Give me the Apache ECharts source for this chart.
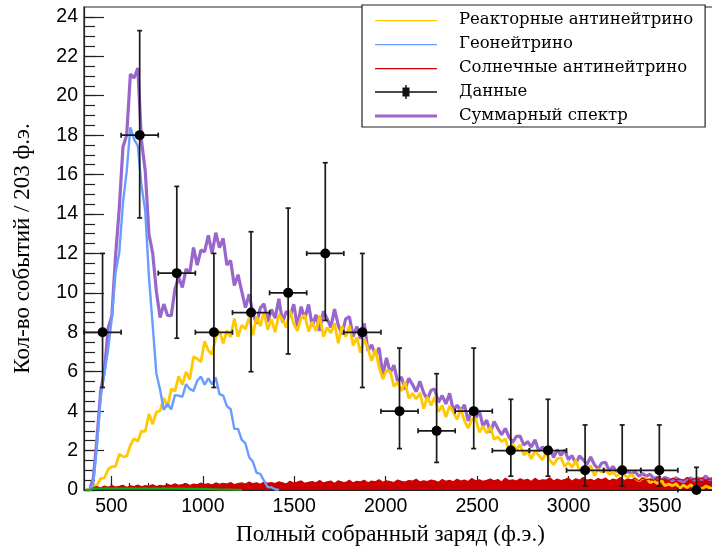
<!DOCTYPE html>
<html>
<head>
<meta charset="utf-8">
<script src="https://cdn.jsdelivr.net/npm/echarts@6/dist/echarts.min.js"></script>
<style>
  html, body { margin: 0; padding: 0; background: #fff; }
  #chart { width: 712px; height: 550px; }
</style>
</head>
<body>
<div id="chart"></div>
<script>
// Fine-binned simulated spectra: 170 bins of 20.3 ф.э. starting at 350 ф.э.
const fineStart = 350;
const fineWidth = 20.3;

// Reactor antineutrino spectrum
const reactor = [
  0, 0, 0.22, 0.25, 0.58, 0.61, 1.04, 1.18, 1.2, 1.82,
  1.69, 1.71, 2.27, 2.61, 2.47, 2.99, 2.97, 3.85, 3.34, 3.95,
  4.02, 4.67, 4.2, 5.13, 5.02, 5.76, 5.34, 5.99, 5.61, 6.76,
  6.66, 6.5, 7.54, 7.08, 6.87, 7.74, 8.07, 7.44, 8.08, 7.76,
  8.7, 7.78, 8.36, 8.17, 8.76, 7.85, 8.8, 8.32, 9.03, 8.13,
  8.67, 8.01, 8.91, 8.61, 8.25, 9.09, 8.43, 8.07, 8.74, 8.87,
  8.04, 8.53, 8.06, 8.85, 7.78, 8.24, 7.97, 8.46, 7.45, 8.3,
  7.77, 8.33, 7.33, 7.74, 6.96, 7.66, 7.16, 6.55, 7.14, 6.23,
  5.62, 6.08, 6.02, 5.25, 5.49, 5.02, 5.5, 4.64, 4.9, 4.62,
  4.92, 4.13, 4.73, 4.29, 4.71, 3.97, 4.29, 3.7, 4.27, 3.95,
  3.58, 4.11, 3.51, 3.14, 3.58, 3.62, 2.93, 3.24, 2.88, 3.2,
  2.57, 2.69, 2.45, 2.6, 2.0, 2.35, 2.03, 2.29, 1.77, 1.98,
  1.58, 1.98, 1.77, 1.53, 1.89, 1.51, 1.28, 1.59, 1.63, 1.19,
  1.41, 1.15, 1.52, 0.97, 1.17, 1.01, 1.24, 0.72, 1.06, 0.91,
  1.04, 0.79, 0.89, 0.69, 0.87, 0.76, 0.63, 0.8, 0.59, 0.46,
  0.6, 0.6, 0.37, 0.46, 0.32, 0.5, 0.22, 0.3, 0.22, 0.32,
  0.08, 0.25, 0.12, 0.27, 0.06, 0.16, 0.05, 0.2, 0.12, 0.05
];

// Geoneutrino spectrum (zero above ~1400 ф.э.)
const geo = [
  0, 0, 0.32, 2.3, 4.72, 5.93, 7.12, 8.74, 11.02, 12.04,
  14.58, 16.16, 18.4, 17.78, 17.46, 15.42, 14.16, 10.8, 8.38, 5.9,
  5.08, 4.06, 4.37, 4.09, 4.81, 4.79, 4.73, 5.37, 5.13, 5.02,
  5.54, 5.75, 5.34, 5.66, 5.36, 5.7, 4.86, 4.79, 4.25, 4.11,
  3.1, 3.1, 2.54, 2.36, 1.66, 1.44, 0.87, 0.82, 0.47, 0.15,
  0.14, 0.04, 0
];

// Solar antineutrino spectrum
const solar = [
  0, 0, 0.12, 0.18, 0.1, 0.2, 0.14, 0.22, 0.15, 0.19,
  0.24, 0.13, 0.21, 0.17, 0.25, 0.16, 0.22, 0.19, 0.27, 0.18,
  0.24, 0.2, 0.29, 0.22, 0.31, 0.24, 0.28, 0.33, 0.23, 0.3,
  0.26, 0.35, 0.27, 0.32, 0.25, 0.36, 0.29, 0.34, 0.3, 0.38,
  0.27, 0.33, 0.36, 0.3, 0.4, 0.32, 0.37, 0.29, 0.41, 0.34,
  0.38, 0.33, 0.42, 0.36, 0.3, 0.44, 0.35, 0.4, 0.46, 0.34,
  0.39, 0.43, 0.37, 0.48, 0.36, 0.41, 0.45, 0.33, 0.47, 0.4,
  0.38, 0.5, 0.36, 0.44, 0.41, 0.49, 0.37, 0.45, 0.42, 0.52,
  0.39, 0.46, 0.43, 0.38, 0.51, 0.44, 0.4, 0.48, 0.45, 0.54,
  0.41, 0.47, 0.43, 0.5, 0.46, 0.39, 0.53, 0.44, 0.49, 0.42,
  0.55, 0.45, 0.5, 0.43, 0.58, 0.47, 0.52, 0.44, 0.49, 0.56,
  0.46, 0.53, 0.41, 0.6, 0.48, 0.51, 0.45, 0.57, 0.49, 0.54,
  0.43, 0.59, 0.47, 0.52, 0.5, 0.62, 0.46, 0.55, 0.48, 0.53,
  0.6, 0.45, 0.57, 0.5, 0.64, 0.49, 0.54, 0.47, 0.58, 0.52,
  0.61, 0.46, 0.56, 0.5, 0.63, 0.48, 0.55, 0.52, 0.59, 0.45,
  0.62, 0.51, 0.57, 0.49, 0.65, 0.53, 0.58, 0.47, 0.6, 0.52,
  0.56, 0.5, 0.63, 0.48, 0.59, 0.54, 0.61, 0.5, 0.57, 0.55
];

// Small low-energy background component
const other = [
  0, 0, 0.06, 0.08, 0.07, 0.09, 0.08, 0.07, 0.09, 0.08,
  0.08, 0.07, 0.09, 0.08, 0.07, 0.08, 0.09, 0.07, 0.08, 0.08,
  0.07, 0.09, 0.08, 0.07, 0.08, 0.08, 0.07, 0.06, 0.07, 0.06,
  0.06, 0.05, 0.06, 0.05, 0.04, 0.04, 0.03, 0.03, 0.02, 0.02,
  0.01, 0.01, 0
];

// Summed spectrum
const total = [
  0, 0, 0.58, 2.62, 5.04, 6.02, 8.2, 8.81, 11.87, 14.29,
  17.4, 18.0, 21.1, 20.9, 21.4, 17.7, 16.2, 12.97, 12.02, 10.07,
  8.75, 9.43, 8.86, 8.84, 10.18, 10.79, 10.28, 11.21, 11.02, 12.3,
  11.41, 12.17, 12.09, 12.92, 12.0, 13.05, 12.29, 12.76, 11.41, 11.64,
  10.37, 10.92, 10.07, 9.25, 9.93, 8.96, 8.44, 9.23, 9.44, 8.53,
  9.16, 8.72, 9.7, 8.51, 9.07, 8.79, 9.42, 8.3, 9.3, 8.69,
  9.41, 8.31, 8.89, 8.07, 9.07, 8.69, 8.25, 9.18, 8.36, 7.89,
  8.68, 8.79, 7.78, 8.29, 7.67, 8.45, 7.06, 7.37, 6.84, 7.22,
  5.85, 6.7, 5.94, 6.33, 5.49, 5.74, 5.1, 5.67, 5.35, 4.98,
  5.51, 4.93, 4.59, 5.06, 5.12, 4.45, 4.79, 4.37, 4.9, 4.04,
  4.3, 4.02, 4.32, 3.5, 4.08, 3.62, 4.01, 3.24, 3.54, 2.92,
  3.47, 3.12, 2.8, 3.12, 2.69, 2.43, 2.72, 2.73, 2.27, 2.46,
  2.18, 2.55, 1.99, 2.18, 2.01, 2.2, 1.65, 2.05, 1.76, 2.04,
  1.54, 1.74, 1.33, 1.73, 1.53, 1.3, 1.67, 1.29, 1.06, 1.37,
  1.41, 0.97, 1.19, 0.93, 1.12, 0.88, 0.93, 0.84, 0.92, 0.7,
  0.84, 0.7, 0.8, 0.58, 0.65, 0.49, 0.64, 0.56, 0.46, 0.62,
  0.48, 0.41, 0.57, 0.61, 0.48, 0.6, 0.53, 0.71, 0.52, 0.61
];

// Measured events: 17 bins of 203 ф.э. starting at 350 ф.э.
const dataStart = 350;
const dataWidth = 203;
const dataCounts = [8, 18, 11, 8, 9, 10, 12, 8, 4, 3, 4, 2, 2, 1, 1, 1, 0];
const dataLow    = [5.2, 13.8, 7.7, 5.2, 6.0, 6.9, 8.6, 5.2, 2.1, 1.4, 2.1, 0.7, 0.7, 0.2, 0.2, 0.2, 0];
const dataHigh   = [12.0, 23.3, 15.4, 12.0, 13.1, 14.3, 16.6, 12.0, 7.2, 5.9, 7.2, 4.6, 4.6, 3.3, 3.3, 3.3, 1.15];

// Axis ticks
const xMajorTicks = [500, 1000, 1500, 2000, 2500, 3000, 3500];
const yMajorTicks = [0, 2, 4, 6, 8, 10, 12, 14, 16, 18, 20, 22, 24];
const xMinorStep = 100;
const yMinorStep = 0.5;

const xMinorTicks = [];
for (let v = 400; v <= 3800; v += xMinorStep) xMinorTicks.push(v);
const yMinorTicks = [];
for (let v = 0; v <= 24.001; v += yMinorStep) yMinorTicks.push(+v.toFixed(2));

const names = {
  reactor: 'Реакторные антинейтрино',
  geo: 'Геонейтрино',
  solar: 'Солнечные антинейтрино',
  data: 'Данные',
  total: 'Суммарный спектр'
};

const colors = {
  reactor: '#ffc800',
  geo: '#6a9cff',
  solar: '#cc0000',
  other: '#12a812',
  total: '#9966cc',
  data: '#111111'
};

function toBins(values) {
  return values.map((v, i) => [fineStart + fineWidth * (i + 0.5), v]);
}

const dataRows = dataCounts.map((n, i) => [dataStart + dataWidth * (i + 0.5), n, dataLow[i], dataHigh[i]]);

// Legend glyphs, 62x14 boxes (the leading zero-area stroke fixes the box height)
const thinIcon = 'path://M0,0L0,14M0,7L62,7L62,8.3L0,8.3Z';
const thickIcon = 'path://M0,0L0,14M0,5.5L62,5.5L62,8.5L0,8.5Z';
const dataIcon = 'path://M0,0L0,14M0,6.3L62,6.3L62,7.7L0,7.7Z' +
  'M27.5,2.5L34.5,2.5L34.5,11.5L27.5,11.5Z' +
  'M30.3,0L31.7,0L31.7,14L30.3,14Z';

function legendEntry(name, icon, color) {
  return { name: name, icon: icon, itemStyle: { color: color, borderColor: color, borderWidth: 0, opacity: 1 } };
}

function histLine(name, values, color, width, extra) {
  return Object.assign({
    type: 'line',
    name: name,
    data: toBins(values),
    symbol: 'none',
    showSymbol: false,
    itemStyle: { color: color },
    lineStyle: { color: color, width: width },
    emphasis: { disabled: true },
    silent: true
  }, extra || {});
}

const chart = echarts.init(document.getElementById('chart'), null, { renderer: 'canvas' });

const axisTextColor = '#000';
const sansFont = 'Liberation Sans, Arial, sans-serif';
const serifFont = 'Liberation Serif, Times New Roman, serif';
const plainNumber = v => String(v);

chart.setOption({
  animation: false,
  backgroundColor: '#fff',
  grid: {
    left: 84, top: 7, right: -3, bottom: 60,
    outerBoundsMode: 'none',
    containLabel: false,
    show: true, borderColor: '#222', borderWidth: 1.2, backgroundColor: 'transparent'
  },
  legend: {
    orient: 'vertical',
    left: 362, top: 5,
    itemWidth: 62, itemHeight: 14, itemGap: 7,
    padding: [6.5, 12, 2.5, 13],
    borderColor: '#222', borderWidth: 1.2,
    backgroundColor: '#fff',
    symbolKeepAspect: false,
    selectedMode: false,
    itemStyle: { borderWidth: 0 },
    textStyle: {
      fontFamily: 'DejaVu Serif, serif', fontSize: 16.5, color: '#000',
      padding: [0, 0, 0, 17]
    },
    data: [
      legendEntry(names.reactor, thinIcon, colors.reactor),
      legendEntry(names.geo, thinIcon, colors.geo),
      legendEntry(names.solar, thinIcon, colors.solar),
      legendEntry(names.data, dataIcon, colors.data),
      legendEntry(names.total, thickIcon, colors.total)
    ],
    z: 10
  },
  xAxis: [
    {
      type: 'value', min: fineStart, max: 3801,
      name: 'Полный собранный заряд (ф.э.)',
      nameLocation: 'middle', nameGap: 33,
      nameTextStyle: { fontFamily: serifFont, fontSize: 23, color: axisTextColor, padding: [0, 18, 0, 0] },
      axisLine: { show: true, onZero: false, lineStyle: { color: '#222', width: 1.2 } },
      axisTick: { show: true, inside: true, length: 14, customValues: xMajorTicks, lineStyle: { color: '#222', width: 1.2 } },
      axisLabel: { show: true, customValues: xMajorTicks, formatter: plainNumber, margin: 7, fontFamily: sansFont, fontSize: 19.5, color: axisTextColor },
      splitLine: { show: false }
    },
    {
      type: 'value', min: fineStart, max: 3801, position: 'bottom',
      axisLine: { show: false },
      axisTick: { show: true, inside: true, length: 7, customValues: xMinorTicks, lineStyle: { color: '#222', width: 1.2 } },
      axisLabel: { show: false },
      splitLine: { show: false }
    }
  ],
  yAxis: [
    {
      type: 'value', min: 0, max: 24.5,
      name: 'Кол-во событий / 203 ф.э.',
      nameLocation: 'middle', nameGap: 50,
      nameTextStyle: { fontFamily: serifFont, fontSize: 23, color: axisTextColor },
      axisLine: { show: true, onZero: false, lineStyle: { color: '#222', width: 1.2 } },
      axisTick: { show: true, inside: true, length: 20, customValues: yMajorTicks, lineStyle: { color: '#222', width: 1.2 } },
      axisLabel: { show: true, customValues: yMajorTicks, formatter: plainNumber, margin: 6, fontFamily: sansFont, fontSize: 19.5, color: axisTextColor },
      splitLine: { show: false }
    },
    {
      type: 'value', min: 0, max: 24.5, position: 'left',
      axisLine: { show: false },
      axisTick: { show: true, inside: true, length: 11, customValues: yMinorTicks, lineStyle: { color: '#222', width: 1.2 } },
      axisLabel: { show: false },
      splitLine: { show: false }
    }
  ],
  series: [
    histLine(names.total, total, colors.total, 3.2),
    histLine(names.reactor, reactor, colors.reactor, 2.8),
    histLine(names.solar, solar, colors.solar, 1.2, { areaStyle: { color: colors.solar, opacity: 1 } }),
    histLine(names.geo, geo, colors.geo, 2.4),
    histLine('other', other, colors.other, 2),
    {
      type: 'custom',
      name: names.data,
      data: dataRows,
      encode: { x: 0, y: 1 },
      clip: false,
      silent: true,
      z: 5,
      itemStyle: { color: colors.data },
      renderItem: function (params, api) {
        const x = api.value(0), y = api.value(1), lo = api.value(2), hi = api.value(3);
        const half = dataWidth / 2;
        const c = api.coord([x, y]);
        const l = api.coord([x - half, y]);
        const r = api.coord([x + half, y]);
        const t = api.coord([x, hi]);
        const b = api.coord([x, lo]);
        const st = { stroke: '#1a1a1a', lineWidth: 1.7, fill: null };
        const cap = 2.5;
        const seg = (x1, y1, x2, y2) => ({ type: 'line', shape: { x1: x1, y1: y1, x2: x2, y2: y2 }, style: st });
        return {
          type: 'group',
          children: [
            seg(l[0], c[1], r[0], c[1]),
            seg(l[0], c[1] - cap, l[0], c[1] + cap),
            seg(r[0], c[1] - cap, r[0], c[1] + cap),
            seg(c[0], b[1], c[0], t[1]),
            seg(c[0] - cap, t[1], c[0] + cap, t[1]),
            seg(c[0] - cap, b[1], c[0] + cap, b[1]),
            { type: 'circle', shape: { cx: c[0], cy: c[1], r: 5 }, style: { fill: '#000' } }
          ]
        };
      }
    }
  ]
});
</script>
</body>
</html>
